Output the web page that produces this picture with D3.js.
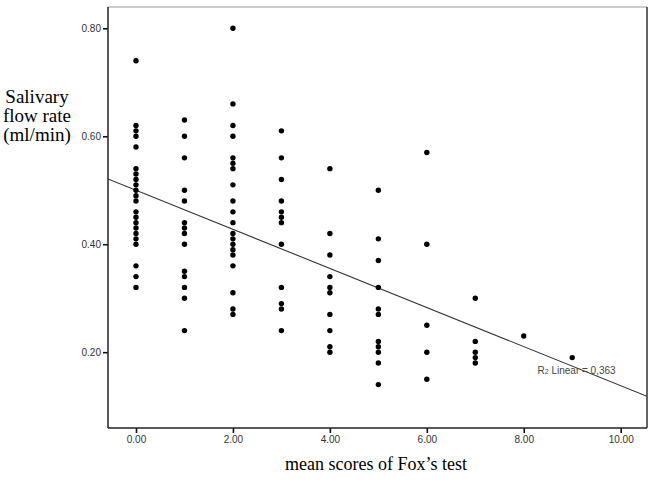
<!DOCTYPE html>
<html>
<head>
<meta charset="utf-8">
<script src="https://cdn.jsdelivr.net/npm/d3@7"></script>
<style>
  html, body { margin: 0; padding: 0; background: #fff; }
  svg { display: block; }
</style>
</head>
<body>
<svg id="chart" width="661" height="485"></svg>
<script>
// ---- data ----
const scores = [0, 1, 2, 3, 4, 5, 6, 7, 8, 9];
const flowScore0 = [0.74, 0.62, 0.61, 0.60, 0.58, 0.54, 0.53, 0.52, 0.51, 0.50, 0.49, 0.48, 0.46, 0.45, 0.44, 0.43, 0.42, 0.41, 0.40, 0.36, 0.34, 0.32];
const flowScore1 = [0.63, 0.60, 0.56, 0.50, 0.48, 0.44, 0.43, 0.42, 0.40, 0.35, 0.34, 0.32, 0.30, 0.24];
const flowScore2 = [0.80, 0.66, 0.62, 0.60, 0.56, 0.55, 0.54, 0.51, 0.48, 0.46, 0.44, 0.42, 0.41, 0.40, 0.39, 0.38, 0.36, 0.31, 0.28, 0.27];
const flowScore3 = [0.61, 0.56, 0.52, 0.48, 0.46, 0.45, 0.44, 0.40, 0.32, 0.29, 0.28, 0.24];
const flowScore4 = [0.54, 0.42, 0.38, 0.34, 0.32, 0.31, 0.27, 0.24, 0.21, 0.20];
const flowScore5 = [0.50, 0.41, 0.37, 0.32, 0.28, 0.27, 0.22, 0.21, 0.20, 0.18, 0.14];
const flowScore6 = [0.57, 0.40, 0.25, 0.20, 0.15];
const flowScore7 = [0.30, 0.22, 0.20, 0.19, 0.18];
const flowScore8 = [0.23];
const flowScore9 = [0.19];
const flowByScore = [flowScore0, flowScore1, flowScore2, flowScore3, flowScore4,
                     flowScore5, flowScore6, flowScore7, flowScore8, flowScore9];

const xTicks = [0, 2, 4, 6, 8, 10];
const yTicks = [0.20, 0.40, 0.60, 0.80];
const regIntercept = 0.500;
const regSlope = -0.0362;
const r2Text = "0,363";
const xTitle = "mean scores of Fox\u2019s test";
const yTitleLines = ["Salivary", "flow rate", "(ml/min)"];

const points = [];
scores.forEach((s, i) => flowByScore[i].forEach(v => points.push({ x: s, y: v })));

// ---- layout ----
const frame = { left: 108, right: 647, top: 7, bottom: 428 };
const x = d3.scaleLinear().domain([0, 10]).range([136, 620.7]);
const y = d3.scaleLinear().domain([0.2, 0.8]).range([352.2, 28.3]);

const svg = d3.select("#chart");

// clip for plot area
svg.append("defs").append("clipPath").attr("id", "plotClip")
  .append("rect")
  .attr("x", frame.left).attr("y", frame.top)
  .attr("width", frame.right - frame.left).attr("height", frame.bottom - frame.top);

// frame: top and right
svg.append("line")
  .attr("x1", frame.left).attr("x2", frame.right)
  .attr("y1", frame.top).attr("y2", frame.top)
  .attr("stroke", "#9a9a9a").attr("stroke-width", 1.2);
svg.append("line")
  .attr("x1", frame.right).attr("x2", frame.right)
  .attr("y1", frame.top).attr("y2", frame.bottom)
  .attr("stroke", "#222").attr("stroke-width", 1.4);

// regression line
const xLo = x.invert(frame.left), xHi = x.invert(frame.right);
svg.append("g").attr("clip-path", "url(#plotClip)")
  .append("line")
  .attr("x1", x(xLo)).attr("y1", y(regIntercept + regSlope * xLo))
  .attr("x2", x(xHi)).attr("y2", y(regIntercept + regSlope * xHi))
  .attr("stroke", "#333").attr("stroke-width", 1.1);

// points
svg.append("g").selectAll("circle").data(points).join("circle")
  .attr("cx", d => x(d.x)).attr("cy", d => y(d.y))
  .attr("r", 2.7).attr("fill", "#000");

// x axis
const xAxis = d3.axisBottom(x).tickValues(xTicks).tickFormat(d3.format(".2f"))
  .tickSize(5).tickSizeOuter(0).tickPadding(3);
const gx = svg.append("g").attr("transform", `translate(0,${frame.bottom})`).call(xAxis);
gx.select(".domain").remove();
gx.append("line").attr("x1", frame.left).attr("x2", frame.right)
  .attr("y1", 0).attr("y2", 0).attr("stroke", "#222").attr("stroke-width", 1.5);
gx.selectAll(".tick line").attr("stroke", "#111").attr("stroke-width", 1.6);
gx.selectAll(".tick text").attr("fill", "#333")
  .style("font-family", "'Liberation Sans', Arial, sans-serif").style("font-size", "10px");

// y axis
const yAxis = d3.axisLeft(y).tickValues(yTicks).tickFormat(d3.format(".2f"))
  .tickSize(5).tickSizeOuter(0).tickPadding(2);
const gy = svg.append("g").attr("transform", `translate(${frame.left},0)`).call(yAxis);
gy.select(".domain").remove();
gy.append("line").attr("x1", 0).attr("x2", 0)
  .attr("y1", frame.top).attr("y2", frame.bottom).attr("stroke", "#222").attr("stroke-width", 1.5);
gy.selectAll(".tick line").attr("stroke", "#111").attr("stroke-width", 1.6);
gy.selectAll(".tick text").attr("fill", "#333")
  .style("font-family", "'Liberation Sans', Arial, sans-serif").style("font-size", "10px");

// R2 label
const r2 = svg.append("text")
  .attr("x", 537.5).attr("y", 374)
  .attr("fill", "#444")
  .style("font-family", "'Liberation Sans', Arial, sans-serif").style("font-size", "10px");
r2.append("tspan").text("R");
r2.append("tspan").style("font-size", "7px").text("2");
r2.append("tspan").text(" Linear = " + r2Text);

// axis titles (serif)
svg.append("text")
  .attr("x", 376).attr("y", 470)
  .attr("text-anchor", "middle")
  .attr("fill", "#000")
  .style("font-family", "'Liberation Serif', 'Times New Roman', serif").style("font-size", "18px")
  .text(xTitle);

const yt = svg.append("text")
  .attr("text-anchor", "middle")
  .attr("fill", "#000")
  .style("font-family", "'Liberation Serif', 'Times New Roman', serif").style("font-size", "19px");
yTitleLines.forEach((t, i) => {
  yt.append("tspan").attr("x", 37).attr("y", 103 + i * 19).text(t);
});
</script>
</body>
</html>
